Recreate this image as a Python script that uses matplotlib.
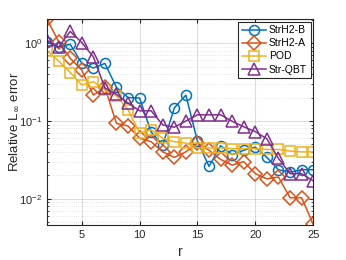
import numpy as np
import matplotlib
matplotlib.use("Agg")
import matplotlib.pyplot as plt
from matplotlib.ticker import LogLocator, NullFormatter

r = list(range(2, 26))

strh2_b = [1.03, 0.89, 0.97, 0.55, 0.48, 0.55, 0.27, 0.20, 0.197, 0.072, 0.049,
           0.147, 0.215, 0.055, 0.026, 0.048, 0.037, 0.042, 0.046, 0.034, 0.0236,
           0.022, 0.0236, 0.0236]
strh2_a = [2.03, 1.05, 0.64, 0.45, 0.215, 0.27, 0.093, 0.086, 0.060, 0.054, 0.040,
           0.034, 0.040, 0.052, 0.042, 0.032, 0.027, 0.030, 0.021, 0.018, 0.019,
           0.0103, 0.0103, 0.0047]
pod = [0.80, 0.59, 0.42, 0.29, 0.32, 0.25, 0.21, 0.14, 0.070, 0.077, 0.060,
       0.054, 0.052, 0.045, 0.045, 0.045, 0.044, 0.044, 0.044, 0.043, 0.043,
       0.041, 0.040, 0.040]
str_qbt = [1.09, 0.89, 1.42, 1.02, 0.67, 0.265, 0.22, 0.17, 0.135, 0.135, 0.089,
           0.083, 0.100, 0.12, 0.12, 0.12, 0.099, 0.084, 0.073, 0.059, 0.033,
           0.021, 0.021, 0.017]

series = [
    ("StrH2-B", strh2_b, "#0072BD", "o", 7.2),
    ("StrH2-A", strh2_a, "#D95319", "D", 7),
    ("POD", pod, "#EDB120", "s", 6.5),
    ("Str-QBT", str_qbt, "#7E2F8E", "^", 8.5),
]

plt.rcParams['font.family'] = ['Liberation Sans', 'DejaVu Sans']
plt.rcParams['mathtext.fontset'] = 'dejavusans'

fig = plt.figure(figsize=(3.46, 2.60), dpi=100)
ax = fig.add_axes([0.136, 0.135, 0.769, 0.792])

for name, vals, col, mk, ms in series:
    ax.semilogy(r, vals, color=col, marker=mk, markersize=ms, markerfacecolor="none",
                markeredgewidth=1.1, linewidth=1.1, label=name)

ax.set_xlim(2, 25)
ax.set_ylim(0.0046, 2.05)
ax.set_xticks([5, 10, 15, 20, 25])
ax.yaxis.set_major_locator(LogLocator(base=10, numticks=10))
ax.yaxis.set_minor_locator(LogLocator(base=10, subs=np.arange(2, 10), numticks=10))
ax.yaxis.set_minor_formatter(NullFormatter())

ax.grid(True, which="major", color="#262626", alpha=0.15, linewidth=0.8)
ax.grid(True, which="minor", axis="y", color="#262626", alpha=0.15, linewidth=0.6, linestyle=":")
ax.set_axisbelow(True)

ax.tick_params(which="both", direction="in", top=True, right=True, labelsize=8,
               colors="#262626", length=3)
ax.tick_params(which="minor", length=1.5)
for s in ax.spines.values():
    s.set_color("#262626")
    s.set_linewidth(0.8)

ax.set_xlabel("r", fontsize=10, color="#262626")
ax.set_ylabel(r"Relative L$_{\infty}$ error", fontsize=9.5, color="#262626")
ax.yaxis.set_label_coords(-0.098, 0.5)

leg = ax.legend(loc="upper right", fontsize=7.5, handlelength=2.3, borderpad=0.35,
                labelspacing=0.3, handletextpad=0.3, borderaxespad=0.25, fancybox=False)
leg.get_frame().set_edgecolor("#262626")
leg.get_frame().set_linewidth(0.8)
leg.get_frame().set_alpha(1)

fig.savefig("out.png", dpi=100)
